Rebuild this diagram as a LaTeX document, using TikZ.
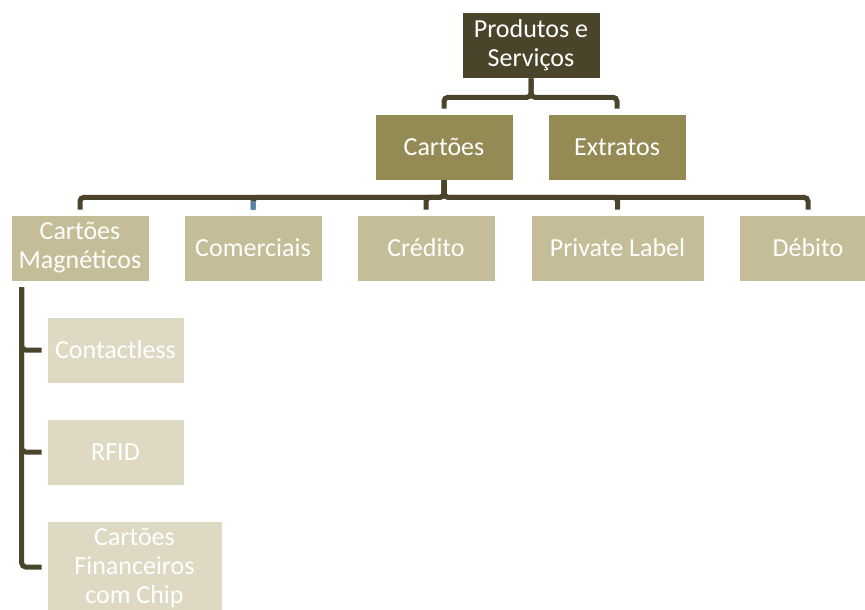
\documentclass[tikz,border=0pt]{standalone}
\usepackage{fontspec}
\setmainfont{Carlito}
\usetikzlibrary{calc}
\definecolor{rootc}{HTML}{4A452A}
\definecolor{lvlone}{HTML}{948A54}
\definecolor{lvltwo}{HTML}{C4BD97}
\definecolor{lvlthree}{HTML}{DDD9C3}
\definecolor{linec}{HTML}{4A452A}
\definecolor{bluec}{HTML}{4F81BD}
\tikzset{
  box/.style={rectangle, draw=white, line width=0.6pt, inner sep=0pt, minimum width=138pt, minimum height=66pt,
    align=center, text=white, font=\fontsize{26}{29}\selectfont},
  rootbox/.style={box, fill=rootc},
  onebox/.style={box, fill=lvlone},
  twobox/.style={box, fill=lvltwo},
  threebox/.style={box, fill=lvlthree, minimum width=137pt},
  conn/.style={draw=linec, line width=5pt, rounded corners=4pt, shorten >=5pt},
}
\begin{document}
\begin{tikzpicture}[x=1pt,y=-1pt]
\useasboundingbox (0,0) rectangle (865,610);
\clip (0,0) rectangle (865,610);
% nodes
\node[rootbox] (root) at (531,45) {Produtos e\\Serviços};
\node[onebox] (cart) at (444,147) {Cartões};
\node[onebox] (extr) at (617,147) {Extratos};
\node[twobox] (mag) at (80,248) {Cartões\\Magnéticos};
\node[twobox] (com) at (253,248) {Comerciais};
\node[twobox] (cred) at (426,248) {Crédito};
\node[twobox, minimum width=173pt] (pl) at (617.5,248) {Private Label};
\node[twobox] (deb) at (808,248) {Débito};
\node[threebox] (cont) at (115.5,350) {Contactless};
\node[threebox] (rfid) at (115.5,452) {RFID};
\node[threebox, minimum width=175pt, minimum height=94pt] (chip) at (134.5,568) {Cartões\\Financeiros\\com Chip};
% level 1 connectors
\coordinate (j1) at ($(root.south)+(0,19)$);
\draw[conn] (root.south) -- (j1) -| (cart.north);
\draw[conn] (root.south) -- (j1) -| (extr.north);
% level 2 connectors
\coordinate (j2) at ($(cart.south)+(0,17)$);
\draw[conn] (cart.south) -- (j2) -| (mag.north);
\draw[conn] (cart.south) -- (j2) -| (com.north);
\draw[conn] (cart.south) -- (j2) -| (cred.north);
\draw[conn] (cart.south) -- (j2) -| (pl.north);
\draw[conn] (cart.south) -- (j2) -| (deb.north);
\draw[draw=bluec, line width=3.5pt] ($(com.north)+(0,-14)$) -- ($(com.north)+(0,-5)$);
% level 3 connectors
\coordinate (j3) at ($(mag.south west)+(11,6)$);
\draw[conn] (j3) |- (cont.west);
\draw[conn] (j3) |- (rfid.west);
\draw[conn] (j3) |- ($(chip.west)+(0,-1)$);
\end{tikzpicture}
\end{document}
